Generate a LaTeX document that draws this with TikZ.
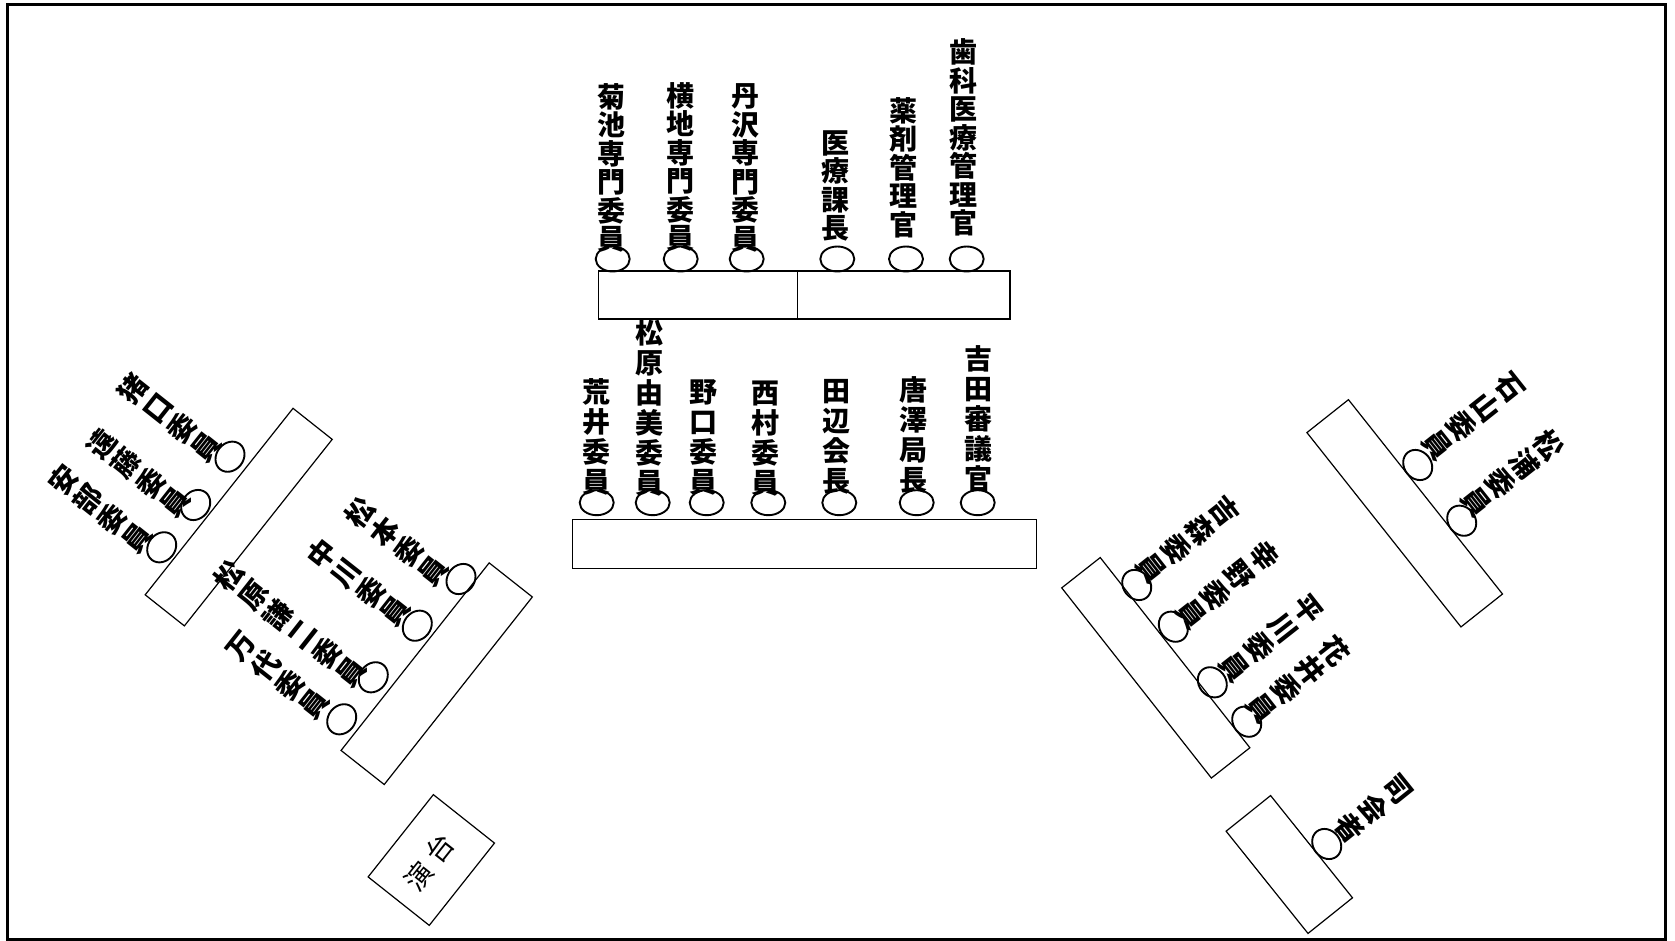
\documentclass[tikz,border=0pt]{standalone}
\usepackage{fontspec}
\setmainfont{Noto Sans CJK JP}
\usetikzlibrary{shapes.geometric}
\newcommand\nmfont[1]{\bfseries\fontsize{28}{#1}\selectfont\lineskiplimit=-100pt\lineskip=0pt}
\begin{document}
\begin{tikzpicture}[x=1pt,y=-1pt,
  seat/.style={draw, ellipse, minimum width=34pt, minimum height=25pt, inner sep=0pt, line width=1.9pt},
  rseat/.style={seat, minimum width=32pt, minimum height=27pt},
  desk/.style={draw, rectangle, inner sep=0pt, line width=1.2pt},
  nmtop/.style={align=center, inner sep=0pt, font=\nmfont{28.5}},
  nmmid/.style={align=center, inner sep=0pt, font=\nmfont{30}},
  nmrot/.style={align=center, inner sep=0pt, font=\nmfont{31}},
]
\useasboundingbox (0,0) rectangle (1675,941);
\draw[line width=3pt] (7,5) rectangle (1665,939);

% ---------- top row ----------
\node[desk, minimum width=199pt, minimum height=48pt] (topL) at (697.8,295) {};
\node[desk, minimum width=212.7pt, minimum height=48pt] (topR) at (903.7,295) {};
\node[seat] (c1) at (612.7,259) {};
\node[seat] (c2) at (680.7,259) {};
\node[seat] (c3) at (746.7,259) {};
\node[seat] (c4) at (837.3,259) {};
\node[seat] (c5) at (906,259) {};
\node[seat] (c6) at (966.7,259) {};
\node[nmtop] (t1) at (611.7,168) {菊\\池\\専\\門\\委\\員};
\node[nmtop] (t2) at (680,167) {横\\地\\専\\門\\委\\員};
\node[nmtop] (t3) at (745,168) {丹\\沢\\専\\門\\委\\員};
\node[nmtop] (t4) at (835,186) {医\\療\\課\\長};
\node[nmtop] (t5) at (903,167.5) {薬\\剤\\管\\理\\官};
\node[nmtop] (t6) at (963,137.5) {歯\\科\\医\\療\\管\\理\\官};

% ---------- middle row ----------
\node[desk, minimum width=464pt, minimum height=49pt] (mid) at (804.7,543.8) {};
\node[seat] (m1) at (596.7,502.7) {};
\node[seat] (m2) at (652.7,502.7) {};
\node[seat] (m3) at (706.7,502.7) {};
\node[seat] (m4) at (768.3,502.7) {};
\node[seat] (m5) at (839.3,502.7) {};
\node[seat] (m6) at (916.7,502.7) {};
\node[seat] (m7) at (977.7,502.7) {};
\node[nmmid] (n1) at (596.7,436.7) {荒\\井\\委\\員};
\node[nmmid] (n2) at (649,407.5) {松\\原\\由\\美\\委\\員};
\node[nmmid] (n3) at (703,437.3) {野\\口\\委\\員};
\node[nmmid] (n4) at (765,438.3) {西\\村\\委\\員};
\node[nmmid] (n5) at (836.7,436.5) {田\\辺\\会\\長};
\node[nmmid] (n6) at (913,434.8) {唐\\澤\\局\\長};
\node[nmmid] (n7) at (978,419) {吉\\田\\審\\議\\官};

% ---------- left upper group ----------
\node[desk, rotate=51.6, minimum width=238pt, minimum height=50pt] (lA) at (238.7,517.1) {};
\node[rseat, rotate=51.6] (la1) at (230,456.7) {};
\node[rseat, rotate=51.6] (la2) at (195.7,505) {};
\node[rseat, rotate=51.6] (la3) at (161.7,547.3) {};
\node[nmrot, rotate=51.6] (ta1) at (169.5,417.8) {猪\\口\\委\\員};
\node[nmrot, rotate=51.6] (ta2) at (138.3,473) {遠\\藤\\委\\員};
\node[nmrot, rotate=51.6] (ta3) at (100,509) {安\\部\\委\\員};

% ---------- left lower group ----------
\node[desk, rotate=51.7, minimum width=239pt, minimum height=55pt] (lB) at (436.7,673.7) {};
\node[rseat, rotate=51.7] (lb1) at (461,579) {};
\node[rseat, rotate=51.7] (lb2) at (417.3,625.7) {};
\node[rseat, rotate=51.7] (lb3) at (373.3,677.3) {};
\node[rseat, rotate=51.7] (lb4) at (341.7,719.3) {};
\node[nmrot, rotate=51.7] (tb1) at (396.7,541.7) {松\\本\\委\\員};
\node[nmrot, rotate=51.7] (tb2) at (358.3,582.5) {中\\川\\委\\員};
\node[nmrot, rotate=51.7] (tb3) at (290,624.2) {松\\原\\謙\\二\\委\\員};
\node[nmrot, rotate=51.7] (tb4) at (278.3,675.8) {万\\代\\委\\員};

% ---------- lectern ----------
\node[desk, rotate=51.6, minimum width=105pt, minimum height=78pt] (lect) at (431.3,860) {};
\node[rotate=51.6, inner sep=0pt, font=\fontsize{27}{27}\selectfont] (lectt) at (429.2,862.5) {演\hspace{8pt}台};

% ---------- right lower group ----------
\node[desk, rotate=-51.8, minimum width=242pt, minimum height=49pt] (rA) at (1155.8,667.8) {};
\node[rseat, rotate=-51.8] (ra1) at (1136.7,585) {};
\node[rseat, rotate=-51.8] (ra2) at (1173.3,626.7) {};
\node[rseat, rotate=-51.8] (ra3) at (1212.3,682.3) {};
\node[rseat, rotate=-51.8] (ra4) at (1246.7,721.7) {};
\node[nmrot, rotate=-51.8] (tr1) at (1188.3,539.2) {吉\\森\\委\\員};
\node[nmrot, rotate=-51.8] (tr2) at (1227.5,585) {幸\\野\\委\\員};
\node[nmrot, rotate=-51.8] (tr3) at (1270.8,638.3) {平\\川\\委\\員};
\node[nmrot, rotate=-51.8] (tr4) at (1298.3,679.2) {花\\井\\委\\員};

% ---------- right upper group ----------
\node[desk, rotate=-51.6, minimum width=248pt, minimum height=53pt] (rB) at (1404.7,513.3) {};
\node[rseat, rotate=-51.6] (rb1) at (1417.7,465) {};
\node[rseat, rotate=-51.6] (rb2) at (1461.7,520.7) {};
\node[nmrot, rotate=-51.6] (ts1) at (1473.3,416.7) {石\\山\\委\\員};
\node[nmrot, rotate=-51.6] (ts2) at (1512.5,473.3) {松\\浦\\委\\員};

% ---------- chair (moderator) ----------
\node[desk, rotate=-51.3, minimum width=131pt, minimum height=57pt] (mc) at (1289.3,864.5) {};
\node[rseat, rotate=-51.3] (mcs) at (1326.7,844) {};
\node[nmrot, rotate=-51.3] (mct) at (1373.3,809) {司\\会\\者};
\end{tikzpicture}
\end{document}
